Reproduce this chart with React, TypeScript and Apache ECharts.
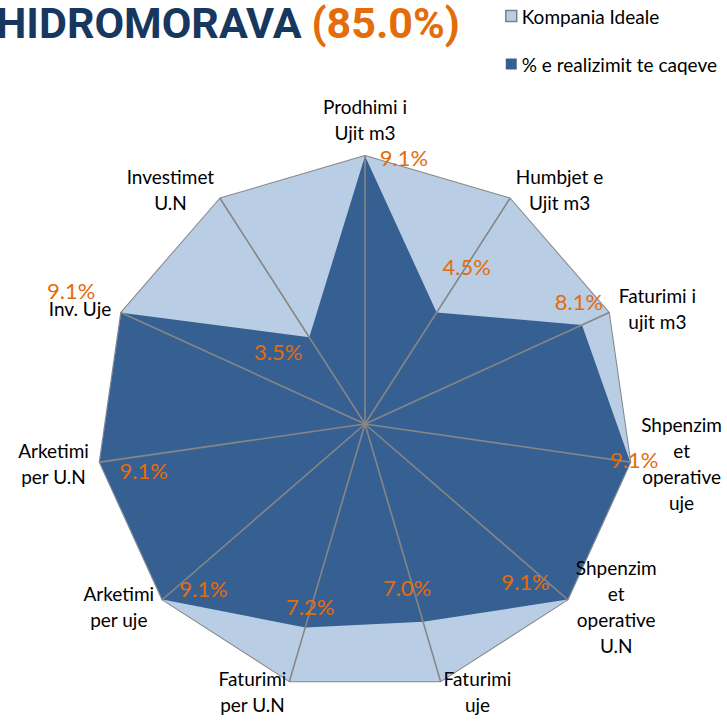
import React, { useEffect, useRef } from "react";
import * as echarts from "echarts";

// Axes in clockwise order starting from the top
const INDICATORS = [
  "Prodhimi i\nUjit m3",
  "Humbjet e\nUjit m3",
  "Faturimi i\nujit m3",
  "Shpenzim\net\noperative\nuje",
  "Shpenzim\net\noperative\nU.N",
  "Faturimi\nuje",
  "Faturimi\nper U.N",
  "Arketimi\nper uje",
  "Arketimi\nper U.N",
  "Inv. Uje",
  "Investimet\nU.N",
];
const AXIS_MAX = 9.1;
const IDEAL = [9.1, 9.1, 9.1, 9.1, 9.1, 9.1, 9.1, 9.1, 9.1, 9.1, 9.1];
const REALIZED = [9.1, 4.5, 8.1, 9.1, 9.1, 7.0, 7.2, 9.1, 9.1, 9.1, 3.5];
const SERIES_NAMES = ["Kompania Ideale", "% e realizimit te caqeve"];
const TITLE_NAME = "HIDROMORAVA";
const TITLE_SCORE = "(85.0%)";

// label placement (style only): offset of each value label from its point
const LABEL_OFFSETS = [
  [39, 1],
  [30, -46],
  [-3, -23],
  [4, -3],
  [-42, -18],
  [-16, -34],
  [5, -21],
  [41, -11],
  [44, 8],
  [-50, -22],
  [-31, 14],
];

const NAVY = "#17375E";
const ORANGE = "#E46C0A";
const LIGHT = "#B9CDE5";
const DARK = "#376092";
const GRAY = "#868686";
const FONT = "Lato";

export default function App() {
  const ref = useRef<HTMLDivElement>(null);
  useEffect(() => {
    if (!ref.current) return;
    const chart = echarts.init(ref.current, undefined, { renderer: "svg" });
    const n = INDICATORS.length;
    // ECharts places indicators counter-clockwise; reorder for clockwise look
    const order = [0];
    for (let i = n - 1; i >= 1; i--) order.push(i);

    const indicator = order.map((i) => ({ name: INDICATORS[i], min: 0, max: AXIS_MAX }));
    const idealVals = order.map((i) => IDEAL[i]);
    const realVals = order.map((i) => REALIZED[i]);
    const labelData = order.map((src, pos) => ({
      value: order.map((_, p) => (p === pos ? REALIZED[src] : 0)),
      label: { offset: LABEL_OFFSETS[src] },
    }));

    chart.setOption({
      animation: false,
      title: {
        text: `{a|${TITLE_NAME}}{b|${TITLE_SCORE}}`,
        left: -4,
        top: 0,
        padding: 0,
        textStyle: {
          rich: {
            a: { fontFamily: "Roboto", fontWeight: "bold", fontSize: 43, color: NAVY, lineHeight: 46 },
            b: {
              fontFamily: "Roboto",
              fontWeight: "bold",
              fontSize: 43,
              color: ORANGE,
              lineHeight: 46,
              padding: [0, 0, 0, 10],
            },
          },
        },
      },
      legend: {
        orient: "vertical",
        left: 500,
        top: 0,
        itemWidth: 11,
        itemHeight: 11,
        itemGap: 26,
        icon: "rect",
        textStyle: { fontFamily: FONT, fontSize: 19, color: "#000", lineHeight: 22 },
        data: [
          { name: SERIES_NAMES[0], itemStyle: { borderColor: "#808080", borderWidth: 1.5 } },
          { name: SERIES_NAMES[1] },
        ],
      },
      radar: {
        center: [365, 424],
        radius: 268,
        startAngle: 90,
        splitNumber: 1,
        shape: "polygon",
        z: 3,
        indicator,
        axisNameGap: 11,
        axisName: {
          color: "#000",
          fontFamily: FONT,
          fontSize: 19,
          formatter: (name: string) =>
            name
              .split("\n")
              .map((l) => `{c|${l}}`)
              .join("\n"),
          rich: {
            c: { fontFamily: FONT, fontSize: 19, lineHeight: 26, color: "#000", align: "center" },
          },
        },
        axisLine: { lineStyle: { color: GRAY, width: 1.6 } },
        splitLine: { show: false },
        splitArea: { show: false },
      },
      series: [
        {
          type: "radar",
          name: SERIES_NAMES[0],
          z: 1,
          symbol: "none",
          itemStyle: { color: LIGHT },
          lineStyle: { color: GRAY, width: 2 },
          areaStyle: { color: LIGHT, opacity: 1 },
          data: [{ name: SERIES_NAMES[0], value: idealVals }],
        },
        {
          type: "radar",
          name: SERIES_NAMES[1],
          z: 2,
          symbol: "none",
          itemStyle: { color: DARK },
          lineStyle: { opacity: 0, width: 0 },
          areaStyle: { color: DARK, opacity: 1 },
          data: [{ name: SERIES_NAMES[1], value: realVals }],
        },
        {
          type: "radar",
          name: "labels",
          z: 4,
          symbol: "circle",
          symbolSize: 1,
          itemStyle: { color: "rgba(0,0,0,0)" },
          lineStyle: { opacity: 0, width: 0 },
          silent: true,
          label: {
            show: true,
            position: "inside",
            color: ORANGE,
            fontFamily: FONT,
            fontSize: 22,
            formatter: (p: any) => (p.value ? Number(p.value).toFixed(1) + "%" : ""),
          },
          data: labelData,
        },
      ],
    });
    return () => chart.dispose();
  }, []);
  return (
    <div
      ref={ref}
      style={{ position: "fixed", left: 0, top: 0, width: 727, height: 721, background: "#fff" }}
    />
  );
}
